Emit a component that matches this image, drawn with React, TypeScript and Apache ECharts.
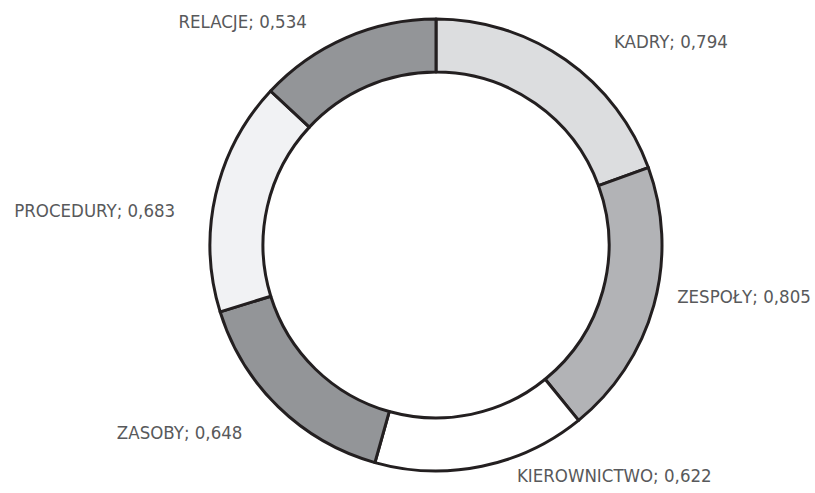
import React, { useEffect, useRef } from "react";
import * as echarts from "echarts";

const categories = ["KADRY", "ZESPOŁY", "KIEROWNICTWO", "ZASOBY", "PROCEDURY", "RELACJE"];
const values = [0.794, 0.805, 0.622, 0.648, 0.683, 0.534];
const sliceColors = ["#dcdddf", "#b2b3b6", "#ffffff", "#939598", "#f1f2f4", "#939598"];
// small per-label nudges (px) relative to ECharts' own outside placement
const labelNudge = [
  [12, -2],
  [-21, -14],
  [6, -10],
  [3, 11],
  [4, 20],
  [-6, 2],
];

export default function App() {
  const ref = useRef<HTMLDivElement>(null);
  useEffect(() => {
    document.body.style.margin = "0";
    const chart = echarts.init(ref.current!, undefined, { renderer: "svg" });
    chart.setOption({
      animation: false,
      backgroundColor: "#ffffff",
      series: [
        {
          type: "pie",
          center: [436, 245],
          radius: [173, 226],
          startAngle: 90,
          clockwise: true,
          avoidLabelOverlap: false,
          itemStyle: { borderColor: "#231f20", borderWidth: 3 },
          label: {
            show: true,
            position: "outside",
            distance: 5,
            fontFamily: "'DejaVu Sans Condensed', sans-serif",
            fontSize: 18.5,
            color: "#58595b",
            formatter: (p: any) => `${p.name}; ${String(p.value.toFixed(3)).replace(".", ",")}`,
          },
          labelLine: { show: false, length: 20, length2: 20 },
          labelLayout: (params: any) => {
            const n = labelNudge[params.dataIndex] || [0, 0];
            return { dx: n[0], dy: n[1] };
          },
          data: categories.map((c, i) => ({
            name: c,
            value: values[i],
            itemStyle: { color: sliceColors[i] },
          })),
        },
      ],
    });
    return () => chart.dispose();
  }, []);
  return <div ref={ref} style={{ width: 815, height: 493 }} />;
}
